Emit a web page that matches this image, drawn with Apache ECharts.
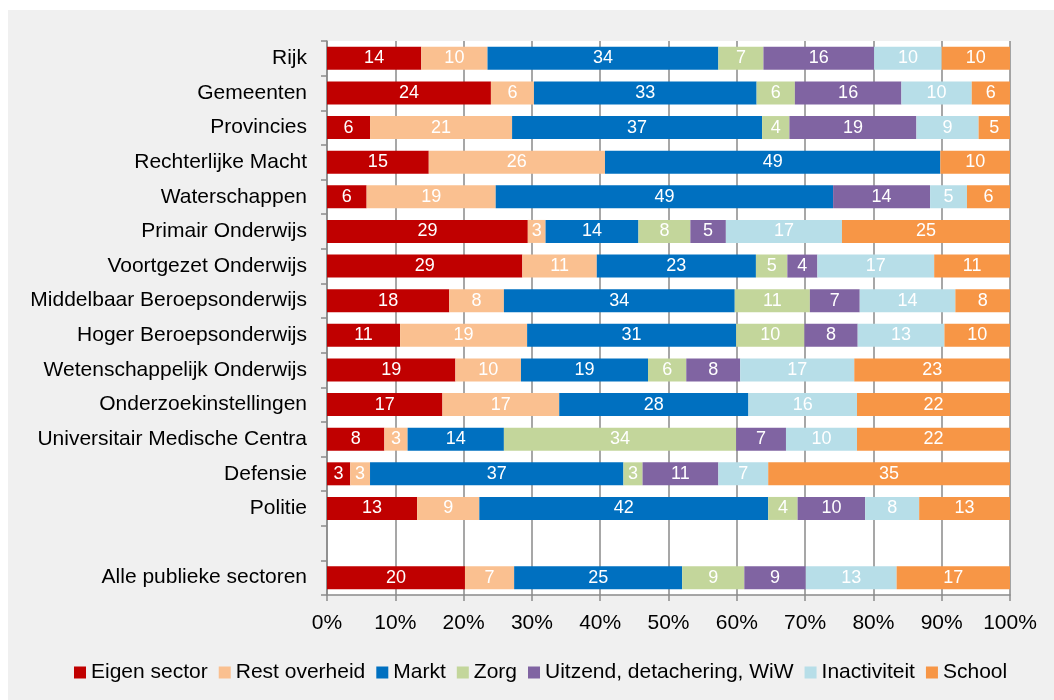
<!DOCTYPE html>
<html>
<head>
<meta charset="utf-8">
<style>
  html, body { margin: 0; padding: 0; background: #ffffff; }
  #chart { width: 1054px; height: 700px; }
</style>
<script src="https://cdn.jsdelivr.net/npm/echarts@6/dist/echarts.min.js"></script>
</head>
<body>
<div id="chart"></div>
<script>
// Sectors, top to bottom; the empty entry leaves a gap row before the total
const categories = [
  'Rijk', 'Gemeenten', 'Provincies', 'Rechterlijke Macht', 'Waterschappen',
  'Primair Onderwijs', 'Voortgezet Onderwijs', 'Middelbaar Beroepsonderwijs',
  'Hoger Beroepsonderwijs', 'Wetenschappelijk Onderwijs', 'Onderzoekinstellingen',
  'Universitair Medische Centra', 'Defensie', 'Politie', '', 'Alle publieke sectoren'
];

// Share (%) per destination, one value per sector
const eigenSector   = [13.8, 24.0, 6.3, 14.9, 5.8, 29.4, 28.6, 17.9, 10.7, 18.8, 16.9, 8.4, 3.4, 13.2, null, 20.2];
const restOverheid  = [9.7, 6.3, 20.8, 25.8, 18.9, 2.6, 10.9, 8.0, 18.6, 9.6, 17.1, 3.4, 2.9, 9.1, null, 7.2];
const markt         = [33.8, 32.6, 36.6, 49.1, 49.4, 13.6, 23.3, 33.8, 30.6, 18.6, 27.7, 14.1, 37.1, 42.3, null, 24.6];
const zorg          = [6.6, 5.6, 4.0, 0, 0, 7.6, 4.6, 11.0, 10.0, 5.6, 0, 34.0, 2.8, 4.3, null, 9.1];
const uitzend       = [16.2, 15.6, 18.6, 0, 14.2, 5.2, 4.4, 7.3, 7.8, 7.9, 0, 7.3, 11.1, 9.9, null, 9.0];
const inactiviteit  = [9.9, 10.3, 9.1, 0, 5.4, 17.0, 17.1, 14.0, 12.7, 16.7, 15.9, 10.4, 7.3, 7.9, null, 13.3];
const school        = [10.0, 5.6, 4.6, 10.2, 6.3, 24.6, 11.1, 8.0, 9.6, 22.8, 22.4, 22.4, 35.4, 13.3, null, 16.6];

const seriesNames = ['Eigen sector', 'Rest overheid', 'Markt', 'Zorg',
  'Uitzend, detachering, WiW', 'Inactiviteit', 'School'];
const seriesData = [eigenSector, restOverheid, markt, zorg, uitzend, inactiviteit, school];
const seriesColors = ['#C00000', '#FAC090', '#0070C0', '#C3D69B', '#8064A2', '#B7DEE8', '#F79646'];

const FONT = "'Liberation Sans', Arial, sans-serif";
const GRID_COLOR = '#8a8a8a';

const chart = echarts.init(document.getElementById('chart'), null, { renderer: 'canvas' });

chart.setOption({
  animation: false,
  backgroundColor: '#ffffff',
  textStyle: { fontFamily: FONT },
  graphic: [{
    type: 'rect',
    z: -10,
    silent: true,
    shape: { x: 8, y: 10, width: 1046, height: 690 },
    style: { fill: '#f0f0f0' }
  }],
  grid: {
    left: 327, right: 44, top: 41, bottom: 105,
    show: true, backgroundColor: '#ffffff', borderWidth: 0
  },
  legend: {
    left: 69, top: 657,
    itemWidth: 12, itemHeight: 12, itemGap: 11,
    icon: 'rect',
    textStyle: { fontFamily: FONT, fontSize: 21, color: '#000' },
    data: seriesNames
  },
  xAxis: {
    type: 'value',
    min: 0, max: 100, interval: 10,
    axisLine: { show: true, lineStyle: { color: GRID_COLOR, width: 1.5 } },
    axisTick: { show: true, length: 6, lineStyle: { color: GRID_COLOR, width: 1.5 } },
    axisLabel: { formatter: '{value}%', fontSize: 21, color: '#000', margin: 18, fontFamily: FONT },
    splitLine: { show: true, lineStyle: { color: GRID_COLOR, width: 1.5 } }
  },
  yAxis: {
    type: 'category',
    inverse: true,
    data: categories,
    axisLine: { show: true, lineStyle: { color: GRID_COLOR, width: 1.5 } },
    axisTick: { show: true, length: 6, lineStyle: { color: GRID_COLOR, width: 1.5 } },
    axisLabel: { fontSize: 21, color: '#000', margin: 20, fontFamily: FONT }
  },
  series: seriesNames.map((name, i) => ({
    name: name,
    type: 'bar',
    stack: 'total',
    barWidth: 23,
    data: seriesData[i],
    itemStyle: { color: seriesColors[i] },
    emphasis: { disabled: true },
    label: {
      show: true,
      position: 'inside',
      color: '#ffffff',
      fontSize: 18,
      fontFamily: FONT,
      formatter: p => (p.value ? String(Math.round(p.value)) : '')
    }
  }))
});
</script>
</body>
</html>
